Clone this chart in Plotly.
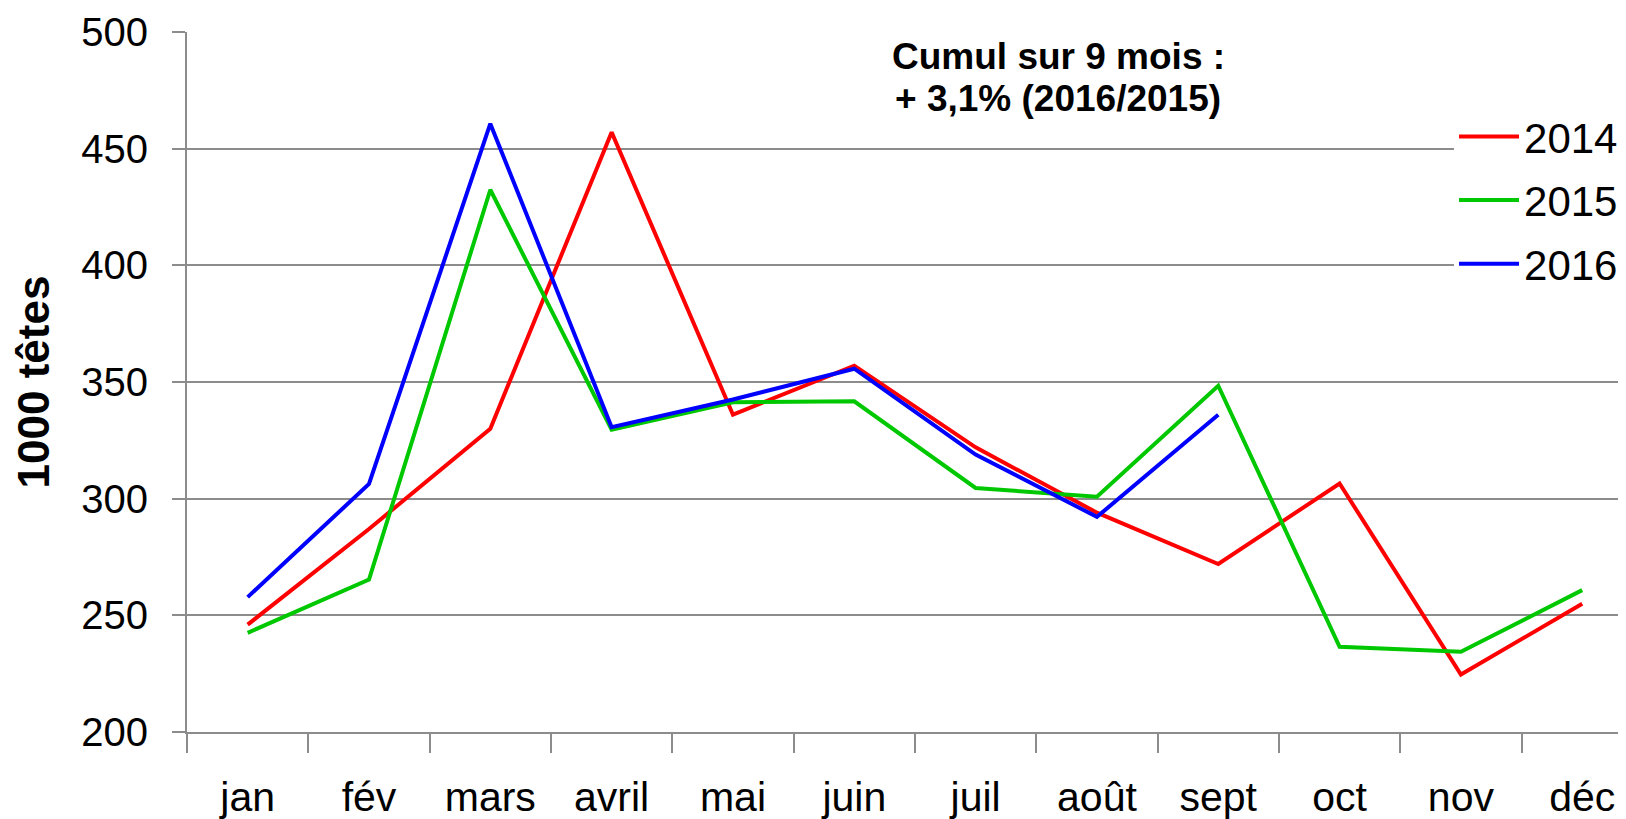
import plotly.graph_objects as go

months = ["jan", "fév", "mars", "avril", "mai", "juin", "juil", "août", "sept", "oct", "nov", "déc"]
v2014 = [246, 287, 330, 457, 336, 357, 322, 294, 272, 306.5, 224.6, 255]
v2015 = [242.5, 265.3, 432.4, 329.6, 341.3, 341.7, 304.6, 300.8, 348.4, 236.5, 234.4, 260.8]
v2016 = [257.8, 306.3, 460.7, 330.6, 342.5, 355.7, 318.9, 292.2, 336]
series_names = ["2014", "2015", "2016"]
colors = ["#FF0000", "#00C800", "#0000FF"]
y_ticks = [200, 250, 300, 350, 400, 450, 500]
note_lines = ["<b>Cumul sur 9 mois :</b>", "<b>+ 3,1% (2016/2015)</b>"]

FONT = "Liberation Sans, Arial, sans-serif"
GRID = "#8C8C8C"

fig = go.Figure()
for name, vals, col in zip(series_names, [v2014, v2015, v2016], colors):
    fig.add_trace(go.Scatter(
        x=months[:len(vals)], y=vals, mode="lines", name=name,
        legendgroup=name,
        line=dict(color=col, width=4),
    ))

# page has an 8px body margin: figure coordinates = page coordinates - 8
W, H = 1618, 811
ml, mt = 178.7, 24.3
plot_bottom = 724.5
mb = H - plot_bottom
plot_w = W - ml
plot_h = plot_bottom - mt
cat_w = 121.35
x_hi = -0.5 + plot_w / cat_w


def px(x):
    return (x - ml) / plot_w


def py(y):
    return (plot_bottom - y) / plot_h


fig.update_layout(
    width=W, height=H,
    margin=dict(l=ml, r=0, t=mt, b=mb, autoexpand=False),
    paper_bgcolor="white", plot_bgcolor="white",
    font=dict(family=FONT, color="black"),
    showlegend=True,
    legend=dict(
        x=px(1446), xanchor="left",
        y=py(95), yanchor="top",
        bgcolor="white", borderwidth=0,
        font=dict(size=42, family=FONT, color="black"),
        tracegroupgap=6,
        itemwidth=60,
    ),
    xaxis=dict(
        type="category", categoryorder="array", categoryarray=months,
        range=[-0.5, x_hi],
        showgrid=False, zeroline=False,
        showline=True, linecolor=GRID, linewidth=2,
        ticks="outside", ticklen=19, tickcolor=GRID, tickwidth=2,
        tickson="boundaries",
        tickfont=dict(size=41, family=FONT, color="black"),
        ticklabelstandoff=28,
    ),
    yaxis=dict(
        range=[200, 500], tickvals=y_ticks,
        showgrid=True, gridcolor=GRID, gridwidth=2,
        zeroline=False,
        showline=True, linecolor=GRID, linewidth=2,
        ticks="outside", ticklen=13, tickcolor=GRID, tickwidth=2,
        tickfont=dict(size=40, family=FONT, color="black"),
        ticklabelstandoff=16,
        title=dict(text="<b>1000 têtes</b>", font=dict(size=44, family=FONT, color="black"), standoff=18),
    ),
    annotations=[
        dict(
            text=t,
            x=px(1050), xref="paper", xanchor="center",
            y=py(yc), yref="paper", yanchor="middle",
            showarrow=False, align="center",
            font=dict(size=37, family=FONT, color="black"),
        )
        for t, yc in zip(note_lines, [49, 91])
    ],
)

fig.write_html("out.html")
